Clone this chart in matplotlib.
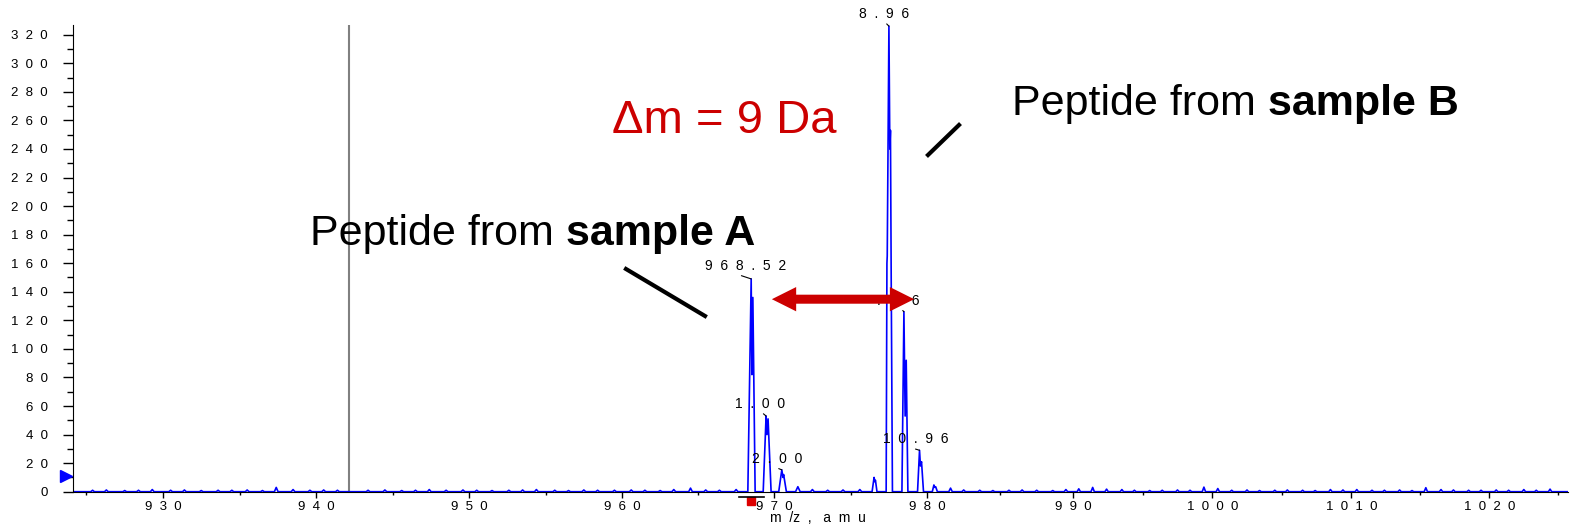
import numpy as np
import matplotlib
matplotlib.use('Agg')
import matplotlib.pyplot as plt
from matplotlib.ticker import MultipleLocator, FuncFormatter
from matplotlib.lines import Line2D

plt.rcParams['font.family'] = ['Liberation Sans', 'DejaVu Sans']

# profile vertices of the two isotope clusters (m/z, counts)
peak_mz = [968.27, 968.49, 968.54, 968.60, 968.75,
           969.28, 969.47, 969.53, 969.60, 969.80,
           970.30, 970.50, 970.58, 970.62, 970.80,
           971.40, 971.55, 971.70,
           976.40, 976.53, 976.58, 976.62, 976.72,
           977.32, 977.37, 977.39, 977.50, 977.56, 977.60, 977.65, 977.73,
           978.35, 978.48, 978.56, 978.63, 978.74,
           979.37, 979.50, 979.56, 979.63, 979.76,
           980.35, 980.46, 980.52, 980.58, 980.70]
peak_int = [0, 149, 82, 136, 0,
            0, 53, 40, 51, 0,
            0, 15.3, 10, 12, 0,
            0, 3.5, 0,
            0, 10, 7, 8, 0,
            0, 160, 165, 326, 240, 253, 148, 0,
            0, 126, 53, 92, 0,
            0, 29, 18, 21, 0,
            0, 4.7, 3, 3.5, 0]

# baseline noise bumps
noise_mz = [
    925.4, 926.3, 927.5, 928.4, 929.3, 930.5, 931.4, 932.5, 933.6, 934.5,
    935.5, 936.5, 937.4, 938.5, 939.6, 940.5, 941.4, 943.4, 944.5, 945.6,
    946.5, 947.4, 948.5, 949.6, 950.5, 951.5, 952.6, 953.5, 954.4, 955.6,
    956.5, 957.5, 958.4, 959.5, 960.6, 961.5, 962.5, 963.4, 964.5, 965.5,
    966.4, 967.5, 972.5, 973.5, 974.5, 975.6, 981.6, 982.5, 983.6, 984.5,
    985.6, 986.5, 987.5, 988.6, 989.5, 990.4, 991.4, 992.4, 993.5, 994.4,
    995.5, 996.4, 997.5, 998.4, 999.4, 1000.4, 1001.4, 1002.5, 1003.4, 1004.5,
    1005.4, 1006.5, 1007.4, 1008.5, 1009.4, 1010.4, 1011.5, 1012.4, 1013.5, 1014.4,
    1015.4, 1016.5, 1017.4, 1018.5, 1019.4, 1020.5, 1021.4, 1022.5, 1023.4, 1024.4]
noise_int = [
    1.0, 1.2, 0.8, 1.0, 1.5, 1.0, 1.2, 0.8, 1.0, 1.0,
    1.2, 0.8, 3.0, 1.5, 1.0, 1.2, 1.0, 1.0, 1.2, 0.8,
    1.0, 1.5, 1.0, 1.2, 1.0, 0.8, 1.0, 1.2, 1.5, 1.0,
    0.8, 1.2, 1.0, 1.0, 1.2, 1.0, 0.8, 1.5, 2.5, 1.2,
    1.0, 1.5, 1.5, 1.0, 1.2, 1.5, 2.5, 1.2, 1.0, 0.8,
    1.0, 1.2, 1.0, 0.8, 1.5, 2.0, 3.0, 1.8, 1.5, 1.0,
    0.8, 1.0, 1.2, 1.0, 3.2, 2.2, 1.0, 1.2, 0.8, 1.0,
    1.2, 1.0, 0.8, 1.5, 1.2, 1.5, 1.0, 1.0, 1.2, 0.8,
    2.8, 1.5, 1.2, 1.0, 1.0, 1.2, 1.0, 1.5, 1.0, 1.8]

# peak labels (only the visible part of each label)
label_text = ['968.52', '1.00', '2.00', '8.96', '.        6', '10.96']
label_mz = [968.49, 969.47, 970.50, 977.50, 978.48, 979.50]
label_int = [149, 53, 15.3, 326, 126, 29]
label_off = [(-6, 13), (-6, 12), (-5, 11), (-5, 12), (-6, 11), (-4, 11)]
label_rel = [0.35, 0.5, 0.4, 0.5, 0.55, 0.36]

marker_mz = 942.15      # grey cursor line
threshold = 11          # blue triangle on the y axis
delta_from, delta_to, delta_y = 969.85, 979.15, 134.8

# the x axis of the original is slightly non-linear: calibrate on its ticks
CAL_MZ = np.array([900, 930, 940, 950, 960, 970, 980, 990, 1000, 1010, 1020, 1050])
CAL_PX = np.array([-296, 163, 316, 469, 622, 774, 927, 1073, 1212, 1351, 1489, 1903])


def fwd(x):
    return np.interp(x, CAL_MZ, CAL_PX)


def inv(p):
    return np.interp(p, CAL_PX, CAL_MZ)


W, H = 1575, 525


def px(x, y):
    return x / W, 1 - y / H


def spaced(s):
    return '  '.join(s)


pts = list(zip(peak_mz, peak_int))
for m, h in zip(noise_mz, noise_int):
    pts += [(m - 0.12, 0), (m, h), (m + 0.12, 0)]
pts += [(924.0, 0), (1026.0, 0)]
pts.sort()
mz = np.array([p[0] for p in pts])
inten = np.array([p[1] for p in pts])

fig = plt.figure(figsize=(W / 100, H / 100), dpi=100)
ax = fig.add_axes([73 / W, 1 - 491.7 / H, (1568 - 73) / W, (491.7 - 25) / H])
ax.set_xscale('function', functions=(fwd, inv))

ax.plot(mz, inten, color='#0000FF', lw=1.2, zorder=2)
ax.axvline(marker_mz, color='#808080', lw=1.5, zorder=1)

ax.set_xlim(924.12, 1025.7)
ax.set_ylim(0, 326.8)
for s in ['top', 'right']:
    ax.spines[s].set_visible(False)

ax.xaxis.set_major_locator(MultipleLocator(10))
ax.xaxis.set_minor_locator(MultipleLocator(5))
ax.yaxis.set_major_locator(MultipleLocator(20))
ax.yaxis.set_minor_locator(MultipleLocator(10))
fmt = FuncFormatter(lambda v, p: spaced('%d' % round(v)))
ax.xaxis.set_major_formatter(fmt)
ax.yaxis.set_major_formatter(fmt)
ax.tick_params(axis='y', which='major', length=7, width=1, pad=11, labelsize=9.5)
ax.tick_params(axis='y', which='minor', length=4, width=1)
ax.tick_params(axis='x', which='major', length=4, width=1, pad=3, labelsize=9.5)
ax.tick_params(axis='x', which='minor', length=2, width=1)
ax.set_xlabel('m  /z  ,   a  m  u', fontsize=10)
ax.xaxis.set_label_coords(0.498, -0.042)

# blue threshold triangle and red cursor box
ax.plot([-0.0047], [threshold], marker='>', ms=9, color='#0000FF',
        transform=ax.get_yaxis_transform(), clip_on=False, ls='none')
fig.add_artist(Line2D([739 / W, 764 / W], [1 - 497 / H, 1 - 497 / H], color='black', lw=1.2))
ax.plot([968.47], [-0.019], marker='s', ms=6, color='#DD0000', ls='none',
        transform=ax.get_xaxis_transform(), clip_on=False)

# peak labels with leader lines
for t, m, i, off, r in zip(label_text, label_mz, label_int, label_off, label_rel):
    ax.annotate(spaced(t) if t[0] != '.' else t, xy=(m, i), xytext=off,
                textcoords='offset pixels', ha='center', va='center', fontsize=10,
                annotation_clip=False, zorder=3,
                arrowprops=dict(arrowstyle='-', lw=0.8, color='black',
                                shrinkA=0, shrinkB=0, relpos=(r, 0)))

# red double arrow
mid = (delta_from + delta_to) / 2
for end in (delta_from, delta_to):
    ax.annotate('', xy=(end, delta_y), xytext=(mid, delta_y), zorder=5,
                arrowprops=dict(arrowstyle='simple,head_length=1.75,head_width=1.75,tail_width=0.65',
                                mutation_scale=10, color='#CC0000', lw=0,
                                shrinkA=0, shrinkB=0))

# annotation texts
tA = fig.text(*px(310, 245), 'Peptide from ', fontsize=31, va='baseline')
ax.annotate('sample A', xy=(1, 0), xycoords=tA, ha='left', va='bottom',
            fontsize=31, fontweight='bold')
tB = fig.text(*px(1012, 115), 'Peptide from ', fontsize=31, va='baseline')
ax.annotate('sample B', xy=(1, 0), xycoords=tB, ha='left', va='bottom',
            fontsize=31, fontweight='bold')
fig.text(*px(612, 133), '\u0394m = 9 Da', fontsize=34, color='#CC0000', va='baseline')

fig.add_artist(Line2D([626 / W, 705 / W], [1 - 269 / H, 1 - 316 / H], color='black', lw=3))
fig.add_artist(Line2D([928 / W, 959 / W], [1 - 155 / H, 1 - 125 / H], color='black', lw=3))

fig.savefig('out.png', dpi=100)
